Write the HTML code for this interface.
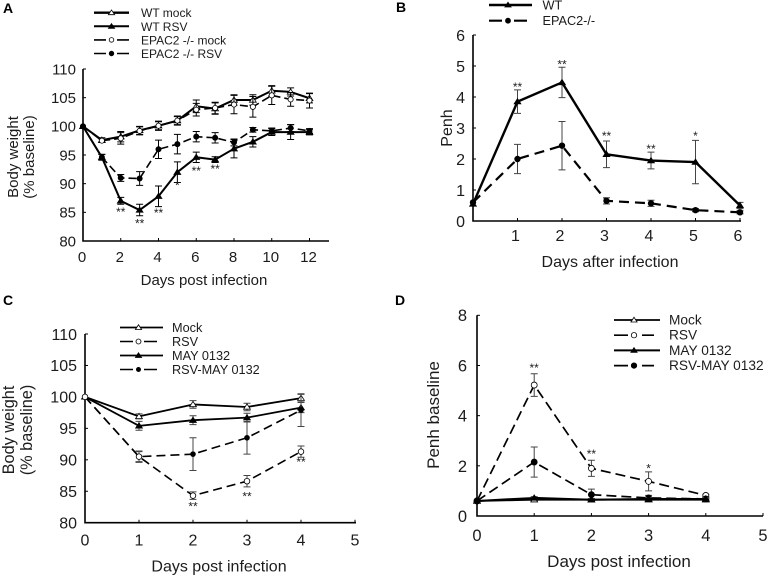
<!DOCTYPE html>
<html lang="en">
<head>
<meta charset="utf-8">
<title>Body weight and Penh panels</title>
<style>
html,body{margin:0;padding:0;background:#fff}
svg{display:block;font-family:"Liberation Sans",Arial,sans-serif;fill:#1c1c1c;filter:blur(0.35px)}
</style>
</head>
<body>
<svg id="figure" xmlns="http://www.w3.org/2000/svg" width="768" height="575" viewBox="0 0 768 575"></svg>
<script>
// Panel A
const aDays = [0,1,2,3,4,5,6,7,8,9,10,11,12];
const aWtMock = [100,97.6,98.2,99.3,100.1,101,103.5,103.1,104.6,104.6,106.2,106,104.9];
const aWtMockErr = [0,0.4,0.9,0.7,0.7,0.7,1.1,1,0.9,0.9,0.9,0.7,0.8];
const aWtRsv = [100,94.6,87,85.4,87.8,92,94.6,94.2,96.1,97.3,99,99,99];
const aWtRsvErr = [0,0.5,0.6,1,1.8,1.8,0.9,0.5,1.6,0.9,0.6,1.3,0.5];
const aEpacMock = [100,97.5,97.9,99.2,100.1,101,102.9,103.2,103.8,103.4,105.4,104.7,104.5];
const aEpacMockErr = [0,0.3,1,0.7,0.8,0.8,1.1,1,1.6,1.8,1.6,1.2,1.3];
const aEpacRsv = [100,94.6,91,90.9,96,96.9,98.2,98,97.2,99.4,99.2,99.7,99.2];
const aEpacRsvErr = [0,0.5,0.6,1.2,1.6,1.7,0.9,0.9,0.6,0.4,0.5,0.6,0.4];
const aXTicks = [0,2,4,6,8,10,12];
const aYTicks = [80,85,90,95,100,105,110];
const aStarX = [2,3,4,5,6,7];
const aStarY = [85.4,83.4,85.2,90,92.6,92.9];
const aStarText = ['**','**','**','*','**','**'];
// Panel B
const bDays = [0,1,2,3,4,5,6];
const bWt = [0.55,3.85,4.47,2.15,1.95,1.9,0.5];
const bWtErr = [0,0.38,0.49,0.43,0.27,0.7,0.1];
const bEpac = [0.6,2,2.43,0.65,0.57,0.35,0.28];
const bEpacErr = [0,0.47,0.78,0.1,0.1,0.05,0.05];
const bXTicks = [1,2,3,4,5,6];
const bYTicks = [0,1,2,3,4,5,6];
const bStarX = [1,2,3,4,5];
const bStarY = [4.38,5.12,2.8,2.38,2.8];
const bStarText = ['**','**','**','**','*'];
// Panel C
const cDays = [0,1,2,3,4];
const cMock = [100,96.9,98.8,98.4,99.8];
const cMockErr = [0,0.4,0.6,0.6,0.6];
const cRsv = [100,90.5,84.3,86.6,91.3];
const cRsvErr = [0,0.8,0.6,0.9,0.9];
const cMay = [100,95.4,96.3,96.7,98.3];
const cMayErr = [0,0.7,0.7,0.7,0.8];
const cRsvMay = [100,90.5,90.9,93.5,97.9];
const cRsvMayErr = [0,0.9,2.6,2.6,2.6];
const cXTicks = [0,1,2,3,4,5];
const cYTicks = [80,85,90,95,100,105,110];
const cStarX = [2,3,4];
const cStarY = [82.9,84.5,90];
const cStarText = ['**','**','**'];
// Panel D
const dDays = [0,1,2,3,4];
const dMock = [0.6,0.65,0.65,0.65,0.65];
const dMockErr = [0,0.05,0.05,0.05,0.05];
const dRsv = [0.6,5.22,1.9,1.38,0.82];
const dRsvErr = [0,0.45,0.32,0.38,0.04];
const dMay = [0.6,0.72,0.65,0.68,0.68];
const dMayErr = [0,0.05,0.05,0.05,0.05];
const dRsvMay = [0.6,2.15,0.85,0.72,0.68];
const dRsvMayErr = [0,0.6,0.22,0.1,0.05];
const dXTicks = [0,1,2,3,4,5];
const dYTicks = [0,2,4,6,8];
const dStarX = [1,2,3];
const dStarY = [5.97,2.55,1.97];
const dStarText = ['**','**','*'];

const NS = 'http://www.w3.org/2000/svg';
const figure = document.getElementById('figure');

function make(parent, tag, attrs, name) {
  const el = document.createElementNS(NS, tag);
  for (const k in attrs) el.setAttribute(k, attrs[k]);
  
  
  parent.appendChild(el);
  return el;
}
function label(parent, x, y, str, size, name, anchor, extra) {
  const t = make(parent, 'text', Object.assign({x: x, y: y, 'font-size': size, 'text-anchor': anchor || 'middle'}, extra || {}), name);
  t.textContent = str;
  return t;
}
function marker(parent, kind, x, y, r, name) {
  const fill = kind.indexOf('open') === 0 ? '#fff' : '#000';
  if (kind.indexOf('circle') >= 0) {
    make(parent, 'circle', {cx: x, cy: y, r: r, fill: fill, stroke: '#000', 'stroke-width': 0.8}, name);
  } else {
    const pts = (x - r - 0.6) + ',' + (y + r * 0.8) + ' ' + (x + r + 0.6) + ',' + (y + r * 0.8) + ' ' + x + ',' + (y - r * 1.1);
    make(parent, 'polygon', {points: pts, fill: fill, stroke: '#000', 'stroke-width': 0.8}, name);
  }
}
function drawSeries(g, s, xf, yf, p) {
  const group = make(g, 'g', {}, s.name + '-series');
  s.err.forEach(function (e, i) {
    if (!e) return;
    const px = xf(s.xs[i]);
    const hi = yf(s.ys[i] + e);
    const lo = yf(s.ys[i] - e);
    const cap = p.cap;
    const d = 'M' + px + ' ' + hi + 'V' + lo + 'M' + (px - cap) + ' ' + hi + 'H' + (px + cap) + 'M' + (px - cap) + ' ' + lo + 'H' + (px + cap);
    make(group, 'path', {d: d, fill: 'none', stroke: p.errColor, 'stroke-width': p.errWidth}, s.name + '-error-bar');
  });
  const pts = s.ys.map(function (v, i) { return xf(s.xs[i]) + ',' + yf(v); }).join(' ');
  const la = {points: pts, fill: 'none', stroke: '#000', 'stroke-width': s.width, 'stroke-linejoin': 'round'};
  if (s.dash) la['stroke-dasharray'] = s.dash;
  make(group, 'polyline', la, s.name + '-line');
  s.ys.forEach(function (v, i) {
    marker(group, s.kind, xf(s.xs[i]), yf(v), s.r, s.name + '-point');
  });
}
function drawPanel(p) {
  const g = make(figure, 'g', {}, p.id + '-chart');
  const xf = function (v) { return p.x0 + (v - p.xMin) / (p.xMax - p.xMin) * (p.x1 - p.x0); };
  const yf = function (v) { return p.y0 + (v - p.yMin) / (p.yMax - p.yMin) * (p.y1 - p.y0); };
  label(g, p.letterX, p.letterY, p.letter, 14, p.id + '-panel-letter', 'start', {'font-weight': 'bold', fill: '#000'});
  make(g, 'path', {d: 'M' + p.x0 + ' ' + p.y1 + 'V' + p.y0 + 'H' + p.axisEnd, fill: 'none', stroke: '#000', 'stroke-width': 1.6}, p.id + '-axes');
  p.xTicks.forEach(function (v) {
    make(g, 'line', {x1: xf(v), x2: xf(v), y1: p.y0, y2: p.y0 - 3, stroke: '#000', 'stroke-width': 1}, p.id + '-x-tick');
    label(g, xf(v) + p.xLabelDx, p.y0 + p.xLabelDy, String(v), p.tickSize, p.id + '-x-tick-label');
  });
  p.yTicks.forEach(function (v) {
    make(g, 'line', {x1: p.x0, x2: p.x0 + 3, y1: yf(v), y2: yf(v), stroke: '#000', 'stroke-width': 1}, p.id + '-y-tick');
    label(g, p.x0 - p.yLabelGap, yf(v) + p.tickSize * 0.36, String(v), p.tickSize, p.id + '-y-tick-label', 'end');
  });
  label(g, p.xTitleX, p.xTitleY, p.xTitle, p.titleSize, p.id + '-x-axis-title');
  p.yTitle.forEach(function (line, i) {
    const tx = p.yTitleX + i * p.yTitleGap;
    label(g, tx, p.yTitleY, line, p.yTitleSize, p.id + '-y-axis-title', 'middle', {transform: 'rotate(-90 ' + tx + ' ' + p.yTitleY + ')'});
  });
  p.series.forEach(function (s) { drawSeries(g, s, xf, yf, p); });
  p.starX.forEach(function (v, i) {
    label(g, xf(v), yf(p.starY[i]) + 6, p.starText[i], 12, p.id + '-significance-mark');
  });
  const leg = make(g, 'g', {}, p.id + '-legend');
  p.series.slice().sort(function (a, b) { return a.order - b.order; }).forEach(function (s, i) {
    const y = p.legY + i * p.legGap;
    const end = s.dash ? p.legX + p.legDashLen : p.legX + p.legLen;
    const la = {x1: p.legX, x2: end, y1: y, y2: y, stroke: '#000', 'stroke-width': s.legWidth || s.width};
    if (s.dash) la['stroke-dasharray'] = p.legDash;
    make(leg, 'line', la, s.name + '-legend-line');
    marker(leg, s.kind, p.legX + p.legDashLen / 2, y, s.r - 0.3, s.name + '-legend-marker');
    label(leg, p.legTextX, y + 4.5, s.title, p.legSize, s.name + '-legend-label', 'start');
  });
}

drawPanel({
  id: 'panel-a', letter: 'A', letterX: 3, letterY: 13,
  x0: 83, x1: 309.5, xMin: 0, xMax: 12, axisEnd: 329,
  y0: 241, y1: 69, yMin: 80, yMax: 110,
  xTicks: aXTicks, yTicks: aYTicks, tickSize: 15, xLabelDx: -1, xLabelDy: 21, yLabelGap: 7,
  xTitle: 'Days post infection', xTitleX: 204, xTitleY: 285, titleSize: 15,
  yTitle: ['Body weight', '(% baseline)'], yTitleSize: 15, yTitleX: 18, yTitleGap: 16, yTitleY: 157,
  cap: 3.5, errColor: '#000', errWidth: 1,
  starX: aStarX, starY: aStarY, starText: aStarText,
  legX: 94, legLen: 35, legDashLen: 35, legY: 12.7, legGap: 13.6, legTextX: 141, legSize: 12, legDash: '12 11',
  series: [
    {name: 'wt-mock', title: 'WT mock', order: 0, xs: aDays, ys: aWtMock, err: aWtMockErr, kind: 'open-triangle', r: 2.8, width: 2, legWidth: 2.4},
    {name: 'wt-rsv', title: 'WT RSV', order: 1, xs: aDays, ys: aWtRsv, err: aWtRsvErr, kind: 'solid-triangle', r: 2.8, width: 2},
    {name: 'epac2-mock', title: 'EPAC2 -/- mock', order: 2, xs: aDays, ys: aEpacMock, err: aEpacMockErr, kind: 'open-circle', r: 2.6, width: 1.6, dash: '8 4'},
    {name: 'epac2-rsv', title: 'EPAC2 -/- RSV', order: 3, xs: aDays, ys: aEpacRsv, err: aEpacRsvErr, kind: 'solid-circle', r: 2.6, width: 1.6, dash: '8 4'}
  ]
});

drawPanel({
  id: 'panel-b', letter: 'B', letterX: 396, letterY: 12,
  x0: 473, x1: 740, xMin: 0, xMax: 6, axisEnd: 741,
  y0: 221, y1: 35, yMin: 0, yMax: 6,
  xTicks: bXTicks, yTicks: bYTicks, tickSize: 16, xLabelDx: -2, xLabelDy: 20, yLabelGap: 8,
  xTitle: 'Days after infection', xTitleX: 610, xTitleY: 267, titleSize: 16,
  yTitle: ['Penh'], yTitleSize: 16, yTitleX: 452, yTitleGap: 0, yTitleY: 128,
  cap: 3.5, errColor: '#444', errWidth: 1,
  starX: bStarX, starY: bStarY, starText: bStarText,
  legX: 489, legLen: 43, legDashLen: 38, legY: 5, legGap: 15.7, legTextX: 542.5, legSize: 12.7, legDash: '13 12',
  series: [
    {name: 'b-wt', title: 'WT', order: 0, xs: bDays, ys: bWt, err: bWtErr, kind: 'solid-triangle', r: 2.8, width: 2.4},
    {name: 'b-epac2', title: 'EPAC2-/-', order: 1, xs: bDays, ys: bEpac, err: bEpacErr, kind: 'solid-circle', r: 2.8, width: 2.2, dash: '10 6'}
  ]
});

drawPanel({
  id: 'panel-c', letter: 'C', letterX: 3, letterY: 305,
  x0: 85, x1: 355, xMin: 0, xMax: 5, axisEnd: 356,
  y0: 522.7, y1: 334, yMin: 80, yMax: 110,
  xTicks: cXTicks, yTicks: cYTicks, tickSize: 16, xLabelDx: 0, xLabelDy: 23, yLabelGap: 8,
  xTitle: 'Days post infection', xTitleX: 219, xTitleY: 571.5, titleSize: 16,
  yTitle: ['Body weight', '(% baseline)'], yTitleSize: 16.3, yTitleX: 14, yTitleGap: 18, yTitleY: 430,
  cap: 3.5, errColor: '#444', errWidth: 1,
  starX: cStarX, starY: cStarY, starText: cStarText,
  legX: 120, legLen: 43, legDashLen: 37, legY: 327.5, legGap: 14, legTextX: 172, legSize: 12.7, legDash: '13 11',
  series: [
    {name: 'c-mock', title: 'Mock', order: 0, xs: cDays, ys: cMock, err: cMockErr, kind: 'open-triangle', r: 2.8, width: 1.8},
    {name: 'c-may-0132', title: 'MAY 0132', order: 2, xs: cDays, ys: cMay, err: cMayErr, kind: 'solid-triangle', r: 2.8, width: 1.8},
    {name: 'c-rsv-may-0132', title: 'RSV-MAY 0132', order: 3, xs: cDays, ys: cRsvMay, err: cRsvMayErr, kind: 'solid-circle', r: 2.4, width: 1.6, dash: '9 5'},
    {name: 'c-rsv', title: 'RSV', order: 1, xs: cDays, ys: cRsv, err: cRsvErr, kind: 'open-circle', r: 2.8, width: 1.6, dash: '9 5'}
  ]
});

drawPanel({
  id: 'panel-d', letter: 'D', letterX: 395, letterY: 305,
  x0: 477, x1: 763, xMin: 0, xMax: 5, axisEnd: 763,
  y0: 516, y1: 315.3, yMin: 0, yMax: 8,
  xTicks: dXTicks, yTicks: dYTicks, tickSize: 16.5, xLabelDx: 0, xLabelDy: 25, yLabelGap: 10,
  xTitle: 'Days post infection', xTitleX: 619, xTitleY: 567, titleSize: 17,
  yTitle: ['Penh baseline'], yTitleSize: 17, yTitleX: 439, yTitleGap: 0, yTitleY: 415,
  cap: 3.5, errColor: '#444', errWidth: 1,
  starX: dStarX, starY: dStarY, starText: dStarText,
  legX: 614, legLen: 46, legDashLen: 40, legY: 320, legGap: 15.2, legTextX: 669, legSize: 13.7, legDash: '14 14',
  series: [
    {name: 'd-rsv', title: 'RSV', order: 1, xs: dDays, ys: dRsv, err: dRsvErr, kind: 'open-circle', r: 3, width: 1.7, dash: '10 5'},
    {name: 'd-rsv-may-0132', title: 'RSV-MAY 0132', order: 3, xs: dDays, ys: dRsvMay, err: dRsvMayErr, kind: 'solid-circle', r: 3, width: 1.7, dash: '10 5'},
    {name: 'd-mock', title: 'Mock', order: 0, xs: dDays, ys: dMock, err: dMockErr, kind: 'open-triangle', r: 2.8, width: 1.8},
    {name: 'd-may-0132', title: 'MAY 0132', order: 2, xs: dDays, ys: dMay, err: dMayErr, kind: 'solid-triangle', r: 2.8, width: 2}
  ]
});
</script>
</body>
</html>
